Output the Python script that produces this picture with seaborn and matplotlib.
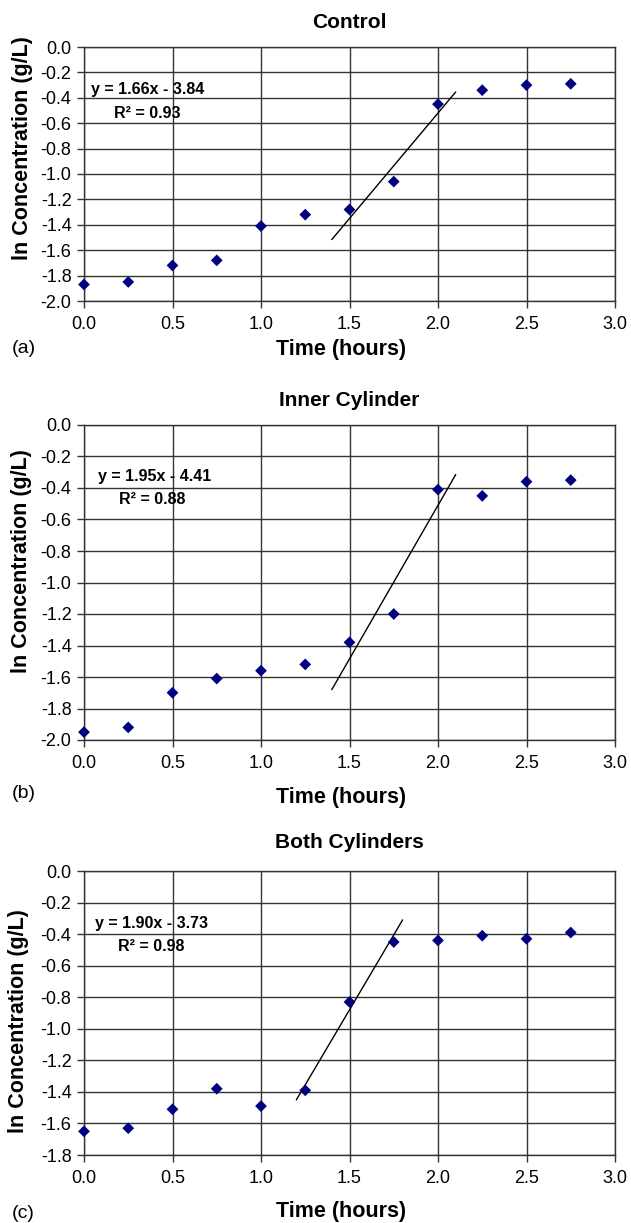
#!/usr/bin/env python3

import matplotlib
import matplotlib.pyplot as plt
import numpy as np
import pandas as pd
import seaborn as sns

matplotlib.use('Agg')

# sampling times (hours)
TIME = [0.0, 0.25, 0.5, 0.75, 1.0, 1.25, 1.5, 1.75, 2.0, 2.25, 2.5, 2.75]

# ln concentration (g/L) per setup
CONTROL = [-1.87, -1.85, -1.72, -1.68, -1.41, -1.32, -1.28, -1.06, -0.45, -0.34, -0.30, -0.29]
INNER = [-1.95, -1.92, -1.70, -1.61, -1.56, -1.52, -1.38, -1.20, -0.41, -0.45, -0.36, -0.35]
BOTH = [-1.65, -1.63, -1.51, -1.38, -1.49, -1.39, -0.83, -0.45, -0.44, -0.41, -0.43, -0.39]

TITLES = ['Control', 'Inner Cylinder', 'Both Cylinders']
PANEL_TAGS = ['(a)', '(b)', '(c)']

# linear fits shown on the charts
SLOPES = [1.66, 1.95, 1.90]
INTERCEPTS = [-3.84, -4.41, -3.73]
R2 = [0.93, 0.88, 0.98]
FIT_START = [1.4, 1.4, 1.2]
FIT_END = [2.1, 2.1, 1.8]

Y_BOTTOM = [-2.0, -2.0, -1.8]

W, H = 631, 1223


def fx(px):
    return px / W


def fy(py):
    return 1 - py / H


def fmt_tick(v, _pos):
    if abs(v) < 1e-9:
        v = 0.0
    return '%.1f' % v


def draw_panel(fig, idx, conc, box, eq_pos, r2_pos, title_y, xlabel_y, ylabel_pos, tag_y):
    left, top, right, bottom = box
    ax = fig.add_axes([fx(left), fy(bottom), fx(right) - fx(left), fy(top) - fy(bottom)])

    df = pd.DataFrame({'time': TIME, 'conc': conc})
    sns.scatterplot(data=df, x='time', y='conc', ax=ax, marker='D', s=36,
                    color='#000080', edgecolor='none', zorder=3, legend=False, clip_on=False)

    xs = np.array([FIT_START[idx], FIT_END[idx]])
    ax.plot(xs, SLOPES[idx] * xs + INTERCEPTS[idx], color='black', lw=1.0, zorder=2)

    ymin = Y_BOTTOM[idx]
    ax.set_xlim(0, 3.0)
    ax.set_ylim(ymin, 0.0)
    ax.set_xticks(np.arange(0, 3.01, 0.5))
    ax.set_yticks(np.round(np.arange(ymin, 0.001, 0.2), 1))
    ax.xaxis.set_major_formatter(matplotlib.ticker.FuncFormatter(fmt_tick))
    ax.yaxis.set_major_formatter(matplotlib.ticker.FuncFormatter(fmt_tick))
    ax.grid(True, color='#333333', lw=1.0)
    ax.set_axisbelow(True)
    for spine in ax.spines.values():
        spine.set_visible(True)
        spine.set_color('#333333')
        spine.set_linewidth(1.0)
    ax.tick_params(axis='both', direction='out', length=5, width=1.0, color='#333333',
                   labelsize=13, bottom=True, left=True)
    ax.tick_params(axis='x', pad=6)
    ax.tick_params(axis='y', pad=4)
    ax.set_xlabel('')
    ax.set_ylabel('')

    sign = '-' if INTERCEPTS[idx] < 0 else '+'
    eq = 'y = %.2fx %s %.2f' % (SLOPES[idx], sign, abs(INTERCEPTS[idx]))
    ax.text(eq_pos[0], eq_pos[1], eq, fontsize=11.5, weight='bold', ha='left', va='center', zorder=4)
    ax.text(r2_pos[0], r2_pos[1], 'R\u00b2 = %.2f' % R2[idx], fontsize=11.5, weight='bold',
            ha='left', va='center', zorder=4)

    cx = (left + right) / 2
    fig.text(fx(cx), fy(title_y), TITLES[idx], ha='center', va='center', fontsize=15, weight='bold')
    fig.text(fx(cx - 8), fy(xlabel_y), 'Time (hours)', ha='center', va='center', fontsize=15.5, weight='bold')
    fig.text(fx(ylabel_pos[0]), fy(ylabel_pos[1]), 'ln Concentration (g/L)', ha='center', va='center',
             rotation=90, fontsize=15.5, weight='bold')
    fig.text(fx(12), fy(tag_y), PANEL_TAGS[idx], ha='left', va='center', fontsize=14)
    return ax


def main():
    sns.set_theme(style='white')
    plt.rcParams['font.family'] = ['Liberation Sans', 'DejaVu Sans']
    plt.rcParams['axes.unicode_minus'] = False
    plt.rcParams['text.color'] = 'black'
    plt.rcParams['xtick.color'] = 'black'
    plt.rcParams['ytick.color'] = 'black'

    fig = plt.figure(figsize=(W / 100, H / 100), dpi=100)
    fig.patch.set_facecolor('white')

    draw_panel(fig, 0, CONTROL, (84, 47, 615, 301), (0.04, -0.337), (0.17, -0.52),
               23, 350, (23, 148), 348)
    draw_panel(fig, 1, INNER, (84, 425, 615, 740), (0.08, -0.328), (0.20, -0.47),
               400, 797, (22, 561), 794)
    draw_panel(fig, 2, BOTH, (84, 871, 615, 1155), (0.064, -0.333), (0.19, -0.48),
               842, 1212, (19, 1021), 1213)

    fig.savefig('out.png', dpi=100, facecolor='white')


if __name__ == "__main__":
    main()
